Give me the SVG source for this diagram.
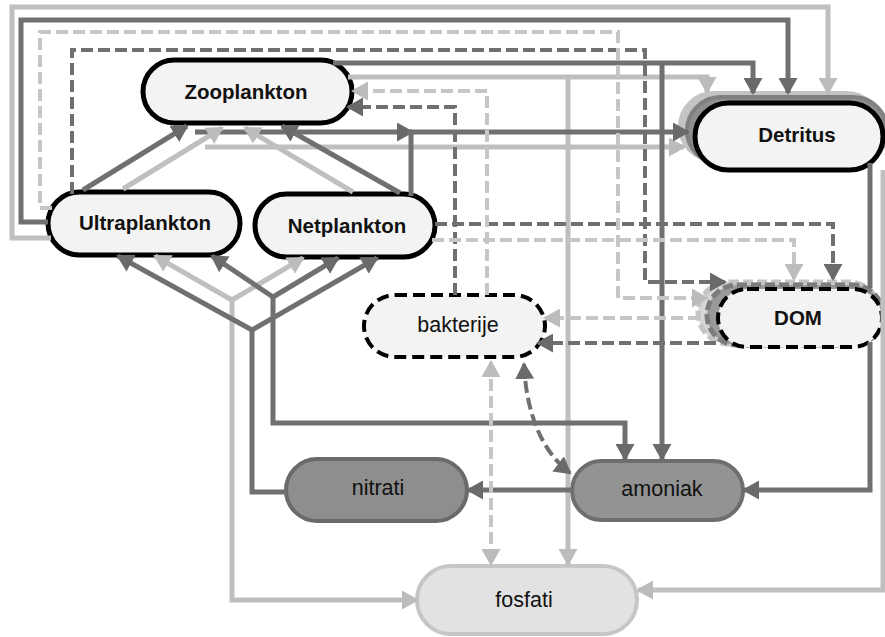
<svg xmlns="http://www.w3.org/2000/svg" width="885" height="637" viewBox="0 0 885 637">
<defs>
<style>
.nd{fill:#f3f3f3;stroke:#000;stroke-width:5}
.ndd{fill:#f3f3f3;stroke:#000;stroke-width:4;stroke-dasharray:12 6}
.tb{font-family:"Liberation Sans",Arial,sans-serif;font-weight:bold;font-size:20.5px;fill:#111;text-anchor:middle}
.tn{font-family:"Liberation Sans",Arial,sans-serif;font-size:21.5px;fill:#111;text-anchor:middle}
.d{fill:none;stroke:#707070;stroke-width:5}
.l{fill:none;stroke:#bfbfbf;stroke-width:5}
.dd{fill:none;stroke:#707070;stroke-width:4;stroke-dasharray:12 5}
.ld{fill:none;stroke:#c6c6c6;stroke-width:4;stroke-dasharray:12 5}
.ad{marker-end:url(#mD)}
.al{marker-end:url(#mL)}
</style>
<marker id="mD" viewBox="0 0 17 19" refX="15" refY="9.5" markerWidth="17" markerHeight="19" markerUnits="userSpaceOnUse" orient="auto-start-reverse"><path d="M0,0 L17,9.5 L0,19 z" fill="#6a6a6a"/></marker>
<marker id="mL" viewBox="0 0 17 19" refX="15" refY="9.5" markerWidth="17" markerHeight="19" markerUnits="userSpaceOnUse" orient="auto-start-reverse"><path d="M0,0 L17,9.5 L0,19 z" fill="#bcbcbc"/></marker>
</defs>
<rect width="885" height="637" fill="#fff"/>

<g id="Zooplankton"><rect class="nd" x="143" y="60" width="209" height="63" rx="31.5"/><text class="tb" x="246" y="99">Zooplankton</text></g>
<g id="Ultraplankton"><rect class="nd" x="48" y="192" width="192" height="63" rx="31.5"/><text class="tb" x="145" y="230">Ultraplankton</text></g>
<g id="Netplankton"><rect class="nd" x="255" y="194" width="180" height="63" rx="31.5"/><text class="tb" x="347" y="233">Netplankton</text></g>
<g id="Detritus">
<rect x="680" y="93" width="200" height="67" rx="33.5" fill="#c4c4c4" stroke="#c4c4c4" stroke-width="4"/>
<rect x="687" y="97" width="200" height="67" rx="33.5" fill="#8e8e8e" stroke="#808080" stroke-width="4"/>
<rect class="nd" x="695" y="103" width="188" height="67" rx="33.5"/><text class="tb" x="797" y="142">Detritus</text></g>
<g id="DOM">
<rect x="698" y="282" width="182" height="62" rx="31" fill="#d6d6d6" stroke="#c4c4c4" stroke-width="5" stroke-dasharray="10 4"/>
<rect x="707" y="285" width="176" height="60" rx="30" fill="#9a9a9a" stroke="#7c7c7c" stroke-width="5" stroke-dasharray="10 4"/>
<rect class="ndd" x="718" y="289" width="164" height="58" rx="29"/><text class="tb" x="798" y="325">DOM</text></g>
<g id="bakterije"><rect class="ndd" x="364" y="295" width="181" height="62" rx="31"/><text class="tn" x="458" y="332">bakterije</text></g>
<g id="nitrati"><rect x="286" y="459" width="181" height="62" rx="31" fill="#8e8e8e" stroke="#6a6a6a" stroke-width="4"/><text class="tn" x="378" y="495">nitrati</text></g>
<g id="amoniak"><rect x="572" y="461" width="171" height="59" rx="29.5" fill="#939393" stroke="#6e6e6e" stroke-width="4"/><text class="tn" x="662" y="496">amoniak</text></g>
<g id="fosfati"><rect x="417" y="566" width="220" height="68" rx="34" fill="#e2e2e2" stroke="#c6c6c6" stroke-width="4"/><text class="tn" x="524" y="607">fosfati</text></g>

<g id="connectors">
<path class="l al" d="M51,238 H12 V7 H828 V93"/>
<path class="l al" d="M348,77 H707 V92"/>
<path class="l al" d="M568,77 V564"/>
<path class="l al" d="M205,147 H684"/>
<path class="l al" d="M232,300 V600 H417"/>
<path class="l al" d="M232,300 L155,256"/>
<path class="l al" d="M232,300 L303,258"/>
<path class="l al" d="M883,170 V590 H638"/>
<path class="d ad" d="M48,222 H21 V20 H788 V93"/>
<path class="d ad" d="M333,63 H753 V93"/>
<path class="d ad" d="M662,63 V459"/>
<path class="d ad" d="M195,132 H412"/>
<path class="d ad" d="M411,196 V132 H688"/>
<path class="d ad" d="M273,297 L212,256"/>
<path class="d ad" d="M273,297 L338,258"/>
<path class="d ad" d="M273,297 V423 H625 V459"/>
<path class="d ad" d="M286,492 H252 V330 L118,256"/>
<path class="d ad" d="M252,330 L377,258"/>
<path class="d ad" d="M572,490 H468"/>
<path class="d ad" d="M870,342 V490 H744"/>
<path class="d" d="M870,163 V288"/>
<path class="d ad" d="M83,190 L187,126"/>
<path class="l al" d="M123,189 L222,128"/>
<path class="l al" d="M353,192 L245,128"/>
<path class="d ad" d="M400,193 L282,126"/>
<path class="dd ad" d="M72,194 V50 H645 V282 H725"/>
<path class="dd ad" d="M435,224 H833 V279"/>
<path class="dd ad" d="M455,295 V107 H348"/>
<path class="dd ad" d="M716,343 H538"/>
<path class="dd ad" d="M524,364 C526,410 540,450 570,473" style="marker-start:url(#mD)"/>
<path class="ld al" d="M52,208 H40 V32 H618 V298 H707"/>
<path class="ld al" d="M432,240 H794 V279"/>
<path class="ld al" d="M487,295 V91 H353"/>
<path class="ld al" d="M700,318 H545"/>
<path class="ld al" d="M491,362 V564" style="marker-start:url(#mL)"/>
</g>
</svg>
